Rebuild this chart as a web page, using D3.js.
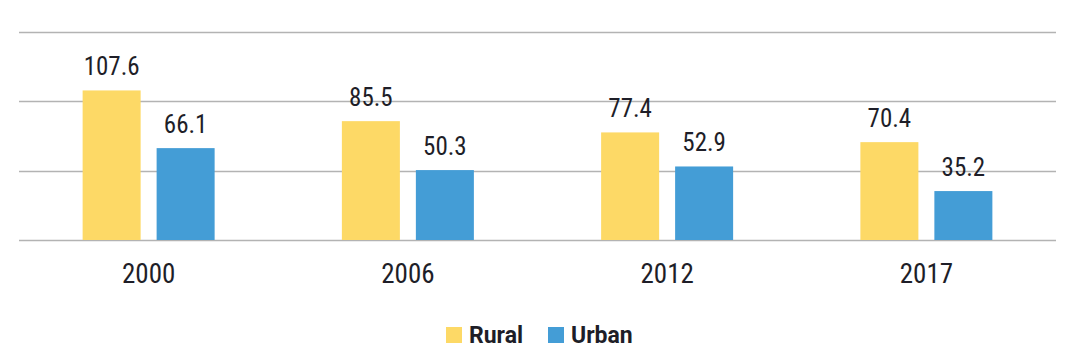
<!DOCTYPE html>
<html>
<head>
<meta charset="utf-8">
<script src="https://cdn.jsdelivr.net/npm/d3@7"></script>
<style>
  html, body { margin: 0; padding: 0; background: #fff; }
  svg { display: block; }
  text { font-family: "Roboto Condensed", "Liberation Sans Narrow", "DejaVu Sans Condensed", sans-serif; fill: #1e1e28; }
</style>
</head>
<body>
<svg id="chart" width="1081" height="361"></svg>
<script>
const years = ["2000", "2006", "2012", "2017"];
const seriesNames = ["Rural", "Urban"];
const rural = [107.6, 85.5, 77.4, 70.4];
const urban = [66.1, 50.3, 52.9, 35.2];
const yTicks = [0, 50, 100, 150];
const colors = ["#FDD966", "#449DD6"];

(function () {
const svg = d3.select("#chart");
const mLeft = 19, mRight = 1056, mTop = 31.5, mBottom = 240;

const x0 = d3.scaleBand().domain(years).range([mLeft, mRight]).padding(0);
const x1 = d3.scaleBand().domain(seriesNames).range([-66, 66]).paddingInner(0.216).paddingOuter(0);
const y = d3.scaleLinear().domain([0, 150]).range([mBottom, mTop]);
const color = d3.scaleOrdinal().domain(seriesNames).range(colors);

// gridlines
svg.append("g").selectAll("line").data(yTicks).join("line")
  .attr("x1", mLeft).attr("x2", mRight)
  .attr("y1", d => Math.round(y(d)) + 0.5).attr("y2", d => Math.round(y(d)) + 0.5)
  .attr("stroke", "#b3b3b3").attr("stroke-width", 1.5);

const data = years.map((yr, i) => ({ year: yr, values: [
  { key: "Rural", value: rural[i] }, { key: "Urban", value: urban[i] } ] }));

const groups = svg.append("g").selectAll("g").data(data).join("g")
  .attr("transform", d => `translate(${x0(d.year) + x0.bandwidth() / 2},0)`);

groups.selectAll("rect").data(d => d.values).join("rect")
  .attr("x", d => x1(d.key))
  .attr("width", x1.bandwidth())
  .attr("y", d => y(d.value))
  .attr("height", d => y(0) - y(d.value))
  .attr("fill", d => color(d.key));

groups.selectAll("text.val").data(d => d.values).join("text")
  .attr("class", "val")
  .attr("x", d => x1(d.key) + x1.bandwidth() / 2)
  .attr("y", d => y(d.value) - 15)
  .attr("text-anchor", "middle")
  .style("font-size", "25px")
  .text(d => d.value.toFixed(1));

// x axis labels
const xAxis = svg.append("g").attr("transform", `translate(0,${mBottom})`)
  .call(d3.axisBottom(x0).tickSize(0).tickPadding(24));
xAxis.select(".domain").remove();
xAxis.selectAll("text").style("font-size", "27px").attr("fill", "#1e1e28")
  .style("font-family", '"Roboto Condensed", "Liberation Sans Narrow", sans-serif');

// legend
const legend = svg.append("g").attr("transform", "translate(446,327)");
const legX = [0, 102];
seriesNames.forEach((s, i) => {
  const g = legend.append("g").attr("transform", `translate(${legX[i]},0)`);
  g.append("rect").attr("width", 16).attr("height", 16).attr("fill", color(s));
  g.append("text").attr("x", 23).attr("y", 15.5)
    .style("font-family", "Roboto, sans-serif").style("font-size", "23px")
    .style("font-weight", "bold").text(s);
});
})();
</script>
</body>
</html>
